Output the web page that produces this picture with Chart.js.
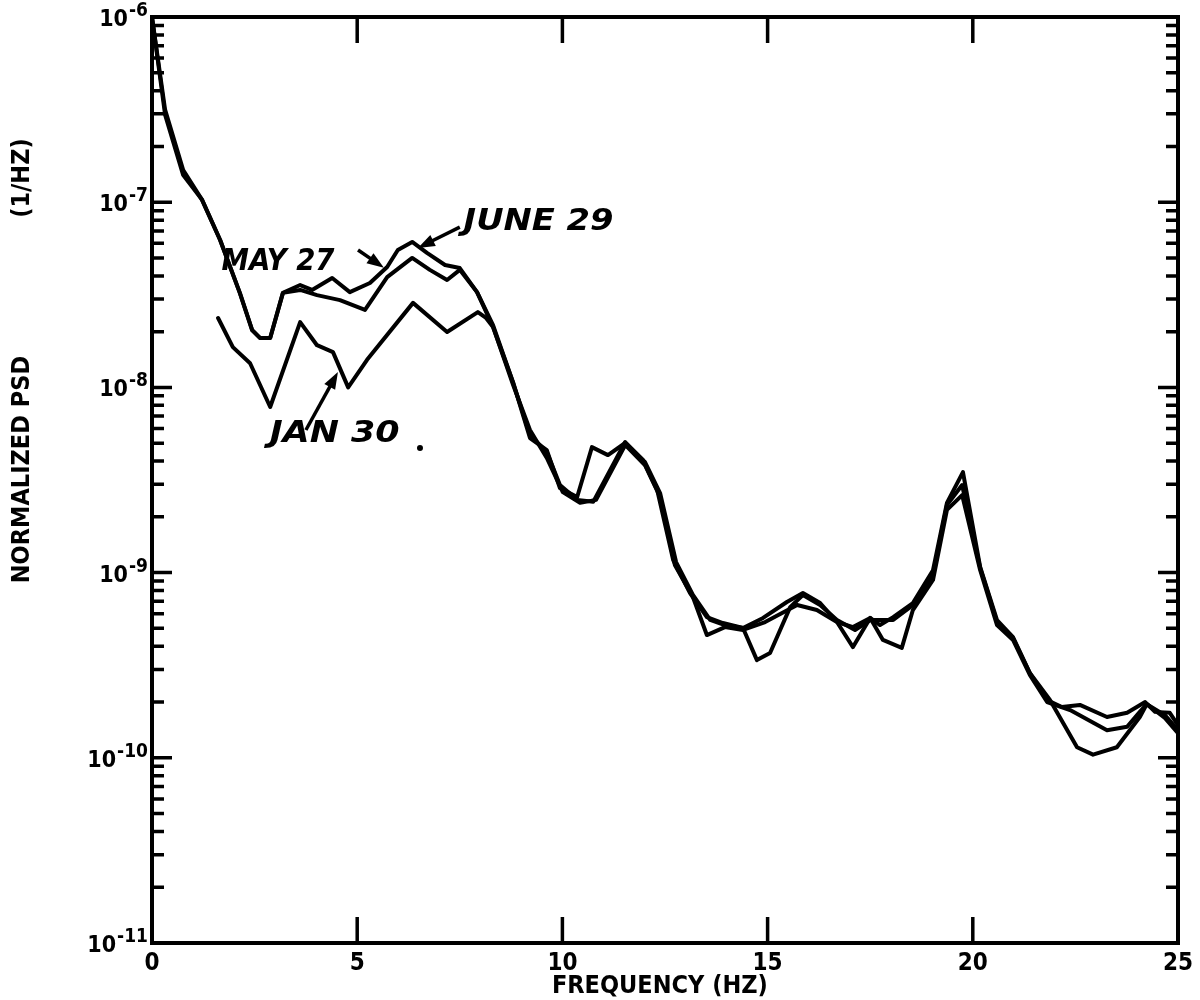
<!DOCTYPE html>
<html>
<head>
<meta charset="utf-8">
<title>Normalized PSD</title>
<script src="https://cdn.jsdelivr.net/npm/chart.js@4.4.1/dist/chart.umd.min.js"></script>
<style>
  html, body { margin: 0; padding: 0; background: #fff; }
  #wrap { width: 1200px; height: 1000px; }
</style>
</head>
<body>
<div id="wrap"><canvas id="psdChart" width="1200" height="1000"></canvas></div>
<script>
// [frequency (Hz), normalized PSD (1/Hz)]
const june29 = [
  [0, 1.0e-6], [0.32, 3.15e-7], [0.76, 1.49e-7], [1.22, 1.03e-7], [1.66, 6.25e-8], [2.14, 3.24e-8],
  [2.44, 2.04e-8], [2.63, 1.85e-8], [2.88, 1.85e-8], [3.19, 3.24e-8], [3.61, 3.57e-8], [3.90, 3.36e-8],
  [4.39, 3.90e-8], [4.82, 3.27e-8], [5.31, 3.66e-8], [5.73, 4.47e-8], [5.99, 5.52e-8], [6.34, 6.10e-8],
  [6.70, 5.32e-8], [7.14, 4.58e-8], [7.50, 4.41e-8], [7.92, 3.27e-8], [8.31, 2.17e-8], [8.80, 1.06e-8],
  [9.21, 5.53e-9], [9.62, 4.48e-9], [9.94, 2.97e-9], [10.36, 2.47e-9], [10.75, 2.41e-9], [11.53, 5.07e-9],
  [11.96, 4.06e-9], [12.31, 2.79e-9], [12.70, 1.17e-9], [13.11, 7.76e-10], [13.52, 5.75e-10], [13.91, 5.34e-10],
  [14.40, 5.02e-10], [14.89, 5.69e-10], [15.47, 6.94e-10], [15.86, 7.76e-10], [16.28, 6.85e-10], [16.69, 5.41e-10],
  [17.08, 5.08e-10], [17.50, 5.69e-10], [17.74, 5.21e-10], [18.06, 5.75e-10], [18.54, 6.85e-10], [19.03, 1.03e-9],
  [19.37, 2.38e-9], [19.76, 3.49e-9], [20.18, 1.07e-9], [20.59, 5.54e-10], [20.98, 4.49e-10], [21.39, 2.87e-10],
  [21.81, 2.05e-10], [22.17, 1.88e-10], [22.61, 1.93e-10], [23.27, 1.66e-10], [23.76, 1.75e-10], [24.20, 2.00e-10],
  [24.44, 1.77e-10], [24.80, 1.75e-10], [25.00, 1.50e-10]
];
const may27 = [
  [0, 1.0e-6], [0.32, 2.96e-7], [0.76, 1.40e-7], [1.22, 1.03e-7], [1.66, 6.25e-8], [2.14, 3.24e-8],
  [2.44, 2.04e-8], [2.63, 1.85e-8], [2.88, 1.85e-8], [3.19, 3.24e-8], [3.61, 3.36e-8], [4.02, 3.15e-8],
  [4.58, 2.96e-8], [5.19, 2.62e-8], [5.73, 3.94e-8], [6.34, 5.00e-8], [6.77, 4.31e-8], [7.19, 3.80e-8],
  [7.50, 4.31e-8], [7.92, 3.27e-8], [8.31, 2.12e-8], [8.80, 1.03e-8], [9.21, 5.89e-9], [9.62, 4.16e-9],
  [10.01, 2.72e-9], [10.43, 2.38e-9], [10.82, 2.47e-9], [11.53, 4.89e-9], [12.01, 3.81e-9], [12.38, 2.56e-9],
  [12.74, 1.10e-9], [13.18, 7.38e-10], [13.52, 4.60e-10], [13.96, 5.08e-10], [14.40, 4.90e-10], [14.94, 5.41e-10],
  [15.72, 6.68e-10], [16.20, 6.28e-10], [16.69, 5.41e-10], [17.08, 3.96e-10], [17.50, 5.69e-10], [17.81, 4.33e-10],
  [18.27, 3.92e-10], [18.54, 6.28e-10], [19.03, 9.12e-10], [19.37, 2.18e-9], [19.74, 2.62e-9], [20.18, 1.03e-9],
  [20.59, 5.21e-10], [20.98, 4.33e-10], [21.39, 2.80e-10], [21.81, 2.00e-10], [22.37, 1.81e-10], [23.27, 1.41e-10],
  [23.76, 1.47e-10], [24.07, 1.77e-10], [24.24, 1.95e-10], [24.68, 1.70e-10], [25.00, 1.41e-10]
];
const jan30 = [
  [1.61, 2.37e-8], [1.97, 1.65e-8], [2.39, 1.35e-8], [2.88, 7.84e-9], [3.61, 2.25e-8], [4.02, 1.69e-8],
  [4.41, 1.55e-8], [4.78, 1.00e-8], [5.24, 1.41e-8], [6.36, 2.86e-8], [7.19, 1.99e-8], [7.94, 2.55e-8],
  [8.14, 2.37e-8], [8.31, 2.12e-8], [8.80, 1.06e-8], [9.21, 5.33e-9], [9.62, 4.59e-9], [9.94, 2.86e-9],
  [10.36, 2.56e-9], [10.72, 4.76e-9], [11.11, 4.31e-9], [11.53, 5.01e-9], [12.01, 3.96e-9], [12.38, 2.69e-9],
  [12.77, 1.14e-9], [13.18, 7.57e-10], [13.60, 5.55e-10], [13.96, 5.21e-10], [14.40, 5.02e-10], [14.74, 3.37e-10],
  [15.06, 3.68e-10], [15.55, 6.51e-10], [15.86, 7.57e-10], [16.28, 6.68e-10], [16.69, 5.55e-10], [17.13, 4.90e-10],
  [17.50, 5.55e-10], [18.06, 5.55e-10], [18.54, 6.68e-10], [19.03, 9.70e-10], [19.37, 2.32e-9], [19.74, 2.97e-9],
  [20.18, 1.06e-9], [20.59, 5.41e-10], [20.98, 4.43e-10], [21.39, 2.87e-10], [21.88, 2.05e-10], [22.54, 1.14e-10],
  [22.93, 1.04e-10], [23.51, 1.14e-10], [24.07, 1.66e-10], [24.24, 1.95e-10], [24.68, 1.64e-10], [25.00, 1.36e-10]
];

const xTicks = [0, 5, 10, 15, 20, 25];
const yTicks = [1e-11, 1e-10, 1e-9, 1e-8, 1e-7, 1e-6];
const yTickExps = ['-11', '-10', '-9', '-8', '-7', '-6'];

// hand-written notes on the plot, anchored in data units (w = text width in px)
const notes = [
  { text: 'MAY 27', x: 3.07, y: 4.75e-8, w: 113, arrow: [5.02, 5.52e-8, 5.65, 4.42e-8] },
  { text: 'JUNE 29', x: 9.42, y: 7.82e-8, w: 150, arrow: [7.50, 7.34e-8, 6.48, 5.66e-8] },
  { text: 'JAN 30', x: 4.45, y: 5.60e-9, w: 130, arrow: [3.75, 5.89e-9, 4.53, 1.21e-8], dot: [6.53, 4.71e-9] }
];

const FONT = "'DejaVu Sans Condensed', 'DejaVu Sans', sans-serif";

function toPoints(rows) {
  return rows.map(r => ({ x: r[0], y: r[1] }));
}

function series(label, rows) {
  return {
    label: label,
    data: toPoints(rows),
    borderColor: '#000',
    borderWidth: 4,
    borderJoinStyle: 'round',
    borderCapStyle: 'round',
    pointRadius: 0,
    tension: 0,
    fill: false
  };
}

// border box with inward ticks on all four sides, y labels, titles and notes
const framePlugin = {
  id: 'frame',
  afterDatasetsDraw(chart) {
    const ctx = chart.ctx;
    const a = chart.chartArea;
    const xs = chart.scales.x;
    const ys = chart.scales.y;
    ctx.save();
    ctx.strokeStyle = '#000';
    ctx.fillStyle = '#000';
    ctx.lineCap = 'butt';
    ctx.lineWidth = 4;
    ctx.strokeRect(a.left, a.top, a.right - a.left, a.bottom - a.top);

    ctx.lineWidth = 3.5;
    ctx.beginPath();
    xTicks.slice(1, -1).forEach(v => {
      const px = xs.getPixelForValue(v);
      ctx.moveTo(px, a.bottom); ctx.lineTo(px, a.bottom - 26);
      ctx.moveTo(px, a.top); ctx.lineTo(px, a.top + 26);
    });
    for (let e = -11; e < -6; e++) {
      for (let m = 1; m < 10; m++) {
        if (m === 1 && e === -11) continue;
        const py = ys.getPixelForValue(m * Math.pow(10, e));
        const len = m === 1 ? 20 : 12;
        ctx.moveTo(a.left, py); ctx.lineTo(a.left + len, py);
        ctx.moveTo(a.right, py); ctx.lineTo(a.right - len, py);
      }
    }
    ctx.stroke();

    // y tick labels: 10 with raised exponent
    ctx.textAlign = 'right';
    ctx.textBaseline = 'alphabetic';
    yTicks.forEach((v, i) => {
      const py = ys.getPixelForValue(v);
      const right = a.left - 4;
      ctx.font = 'bold 19px ' + FONT;
      const ew = ctx.measureText(yTickExps[i]).width;
      ctx.fillText(yTickExps[i], right, py - 1);
      ctx.font = 'bold 23px ' + FONT;
      ctx.fillText('10', right - ew - 1, py + 9);
    });

    // axis titles
    ctx.font = 'bold 25px ' + FONT;
    ctx.textAlign = 'center';
    ctx.textBaseline = 'middle';
    ctx.fillText('FREQUENCY (HZ)', a.left + (a.right - a.left) * 0.495, a.bottom + 43);
    ctx.save();
    ctx.translate(22, 0);
    ctx.rotate(-Math.PI / 2);
    ctx.fillText('NORMALIZED PSD', -ys.getPixelForValue(3.6e-9), 0);
    ctx.fillText('(1/HZ)', -ys.getPixelForValue(1.35e-7), 0);
    ctx.restore();

    // notes with arrows
    ctx.font = 'italic 600 31px ' + FONT;
    ctx.lineWidth = 3.5;
    notes.forEach(n => {
      const tx = xs.getPixelForValue(n.x), ty = ys.getPixelForValue(n.y);
      const sx = n.w / ctx.measureText(n.text).width;
      ctx.save();
      ctx.translate(tx, ty);
      ctx.scale(sx, 1);
      ctx.fillText(n.text, 0, 0);
      ctx.restore();
      const x0 = xs.getPixelForValue(n.arrow[0]), y0 = ys.getPixelForValue(n.arrow[1]);
      const x1 = xs.getPixelForValue(n.arrow[2]), y1 = ys.getPixelForValue(n.arrow[3]);
      const ang = Math.atan2(y1 - y0, x1 - x0);
      ctx.beginPath();
      ctx.moveTo(x0, y0);
      ctx.lineTo(x1 - 10 * Math.cos(ang), y1 - 10 * Math.sin(ang));
      ctx.stroke();
      ctx.beginPath();
      ctx.moveTo(x1, y1);
      ctx.lineTo(x1 - 18 * Math.cos(ang - 0.35), y1 - 18 * Math.sin(ang - 0.35));
      ctx.lineTo(x1 - 18 * Math.cos(ang + 0.35), y1 - 18 * Math.sin(ang + 0.35));
      ctx.closePath();
      ctx.fill();
      if (n.dot) {
        ctx.beginPath();
        ctx.arc(xs.getPixelForValue(n.dot[0]), ys.getPixelForValue(n.dot[1]), 3, 0, Math.PI * 2);
        ctx.fill();
      }
    });
    ctx.restore();
  }
};

new Chart(document.getElementById('psdChart'), {
  type: 'line',
  data: {
    datasets: [
      series('MAY 27', may27),
      series('JUNE 29', june29),
      series('JAN 30', jan30)
    ]
  },
  options: {
    responsive: false,
    animation: false,
    layout: { padding: { top: 17, right: 22, left: 0, bottom: 0 } },
    plugins: { legend: { display: false }, tooltip: { enabled: false } },
    scales: {
      x: {
        type: 'linear',
        min: 0,
        max: 25,
        afterBuildTicks: s => { s.ticks = xTicks.map(v => ({ value: v })); },
        afterFit: s => { s.height = 57; },
        ticks: { color: '#000', font: { family: FONT, size: 24, weight: 'bold' }, padding: 6, maxRotation: 0, autoSkip: false },
        grid: { display: false, drawTicks: false },
        border: { display: false }
      },
      y: {
        type: 'logarithmic',
        min: 1e-11,
        max: 1e-6,
        afterBuildTicks: s => { s.ticks = yTicks.map(v => ({ value: v })); },
        afterFit: s => { s.width = 152; },
        ticks: { display: false },
        grid: { display: false, drawTicks: false },
        border: { display: false }
      }
    }
  },
  plugins: [framePlugin]
});
</script>
</body>
</html>
